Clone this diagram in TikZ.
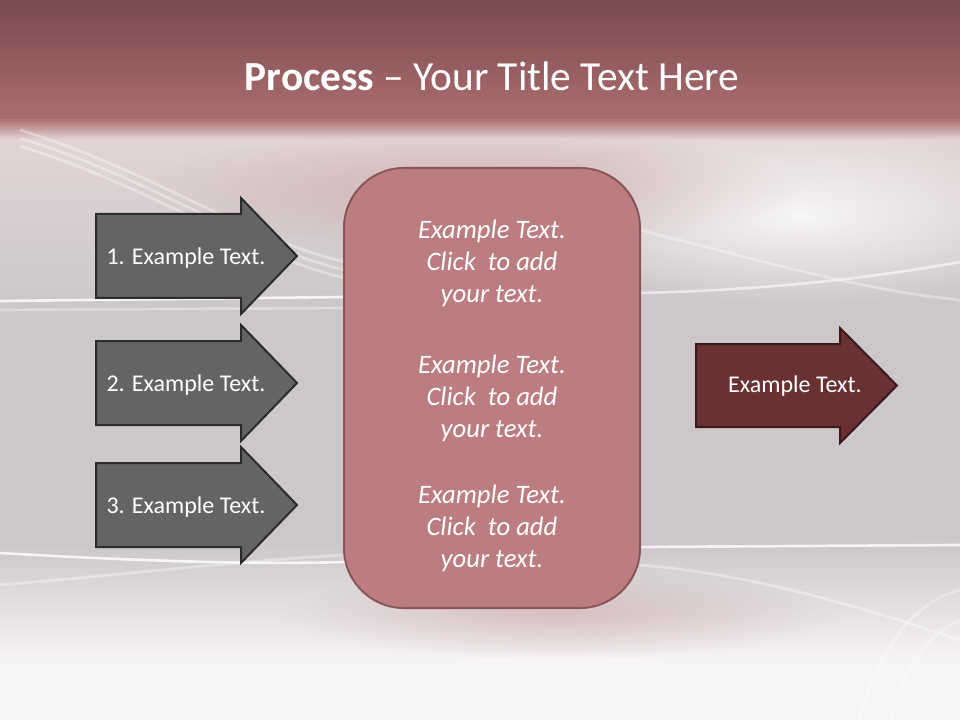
\documentclass[tikz,border=0pt]{standalone}
\usepackage{fontspec}
\setmainfont{Carlito}
\usetikzlibrary{calc,fadings}
\definecolor{bandtop}{HTML}{7A4A4E}
\definecolor{bandbot}{HTML}{AB6D6F}
\definecolor{paleup}{HTML}{E4D5D6}
\definecolor{palegray}{HTML}{CCC8C9}
\definecolor{palelow}{HTML}{F7F4F5}
\definecolor{stepgray}{HTML}{646464}
\definecolor{stepedge}{HTML}{2C2C2C}
\definecolor{boxfill}{HTML}{BB7D80}
\definecolor{boxedge}{HTML}{8A5659}
\definecolor{outfill}{HTML}{693132}
\definecolor{outedge}{HTML}{3B1819}
\tikzfading[name=soft glow,inner color=transparent!0,outer color=transparent!100]
\tikzset{
  swoosh/.style={
    white,
    line width=2pt,
    opacity=0.55
  },
  inarrow/.style={
    fill=stepgray,
    draw=stepedge,
    line width=1.5pt,
    line join=miter
  },
  outarrow/.style={
    fill=outfill,
    draw=outedge,
    line width=1.5pt,
    line join=miter
  },
  steptext/.style={
    text=white,
    font=\fontsize{18}{22}\selectfont,
    inner sep=0pt
  },
  notetext/.style={
    text=white,
    align=center,
    font=\fontsize{20}{24}\selectfont\itshape,
    inner sep=0pt
  }
}

\begin{document}
\begin{tikzpicture}[x=0.75pt,y=-0.75pt]
\useasboundingbox (0,0) rectangle (960,720);
% background
\fill[palelow] (0,0) rectangle (960,720);
\shade[top color=paleup,bottom color=palegray] (0,128) rectangle (960,300);
\fill[palegray] (0,300) rectangle (960,545);
\shade[top color=palegray,bottom color=palelow] (0,545) rectangle (960,660);
\fill[white,opacity=0.8,path fading=soft glow] (800,215) ellipse (260 and 90);
\fill[boxfill,opacity=0.35,path fading=soft glow] (560,615) ellipse (280 and 45);
\fill[boxfill,opacity=0.35,path fading=soft glow] (470,190) ellipse (330 and 60);
\shade[top color=bandtop,bottom color=bandbot] (0,0) rectangle (960,118);
\shade[top color=bandbot,bottom color=paleup] (0,118) rectangle (960,140);
\foreach \d in {0,8,16} {
\draw[swoosh,opacity=0.35] (20,{130+\d}) .. controls (150,{170+\d}) and (250,{240+\d}) .. (345,{262+\d});
}
\draw[swoosh,opacity=0.8] (0,301) -- (345,297);
\draw[swoosh,opacity=0.35] (0,310) -- (345,308);
\draw[swoosh] (640,293) .. controls (760,290) and (860,280) .. (960,262);
\draw[swoosh,opacity=0.35] (640,230) .. controls (760,260) and (860,290) .. (960,300);
\draw[swoosh,opacity=0.8] (0,553) .. controls (120,560) and (250,565) .. (345,562);
\draw[swoosh,opacity=0.35] (0,585) .. controls (120,575) and (250,560) .. (345,555);
\draw[swoosh,opacity=0.8] (640,547) -- (960,545);
\draw[swoosh,opacity=0.35] (640,565) .. controls (760,575) and (870,610) .. (960,640);
\draw[swoosh,opacity=0.3] (860,720) .. controls (880,640) and (920,600) .. (960,590);
\draw[swoosh,opacity=0.3] (890,720) .. controls (905,660) and (935,630) .. (960,620);
% title
\node[text=white,font=\fontsize{31}{37}\selectfont] (title) at (492,76)
  {\textbf{Process} -- Your Title Text Here};
% input steps
\foreach \y/\n in {256/1,383/2,505/3} {
\draw[inarrow] (96,\y-42) -- (241,\y-42) -- (241,\y-58) -- (297,\y)
  -- (241,\y+58) -- (241,\y+42) -- (96,\y+42) -- cycle;
\node[steptext] (step\n) at (186,\y+2) {\n. Example Text.};
}
% middle box
\draw[fill=boxfill,draw=boxedge,line width=1.5pt,rounded corners=45]
  (344,168) rectangle (640,608);
\foreach \y/\n in {263/1,398/2,528/3} {
\node[notetext] (note\n) at (492,\y) {Example Text.\\Click~ to add\\your text.};
}
% output
\draw[outarrow] (696,344) -- (840,344) -- (840,328) -- (897,385.5)
  -- (840,443) -- (840,427) -- (696,427) -- cycle;
\node[steptext] (result) at (795,386) {Example Text.};
\end{tikzpicture}
\end{document}
